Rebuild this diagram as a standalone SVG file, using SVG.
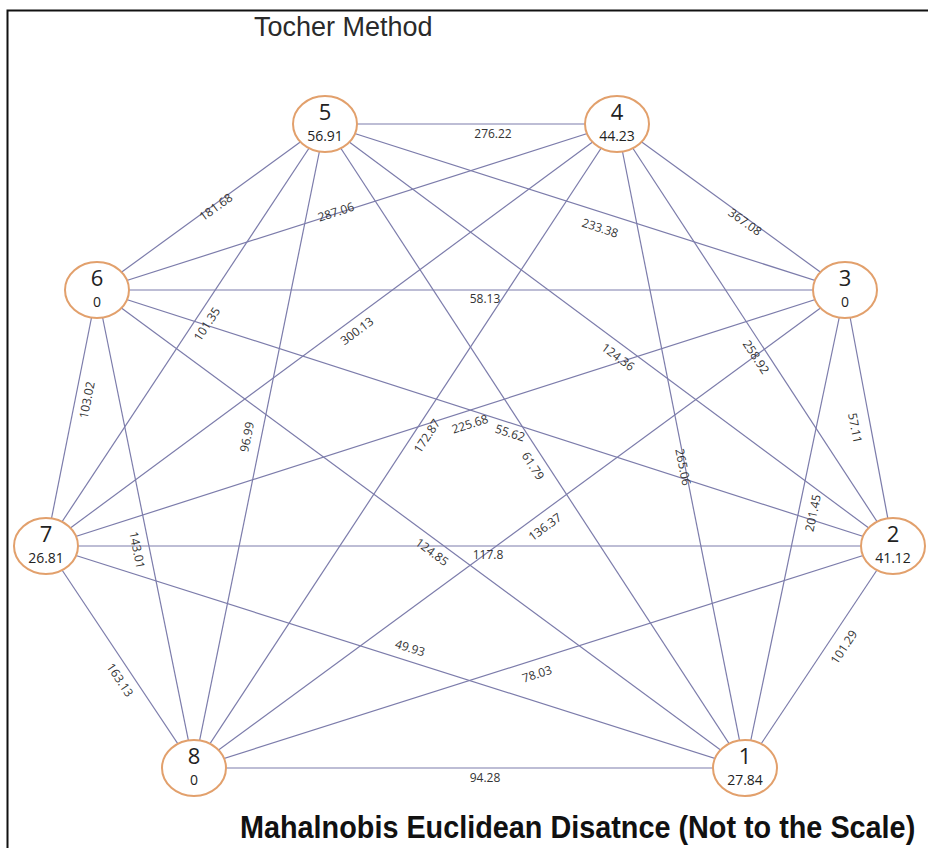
<svg xmlns="http://www.w3.org/2000/svg" width="928" height="848" viewBox="0 0 928 848">
<style>
.e{stroke:#7c7cab;stroke-width:1.2;fill:none}
.n ellipse{fill:#fff;stroke:#e2a06c;stroke-width:2}
.num{font-family:"Open Sans","Noto Sans",sans-serif;font-size:22px;fill:#222;text-anchor:middle}
.val{font-family:"Open Sans","Noto Sans",sans-serif;font-size:14px;fill:#222;text-anchor:middle}
.lb{font-family:"Open Sans","Noto Sans",sans-serif;font-size:12px;fill:#333;text-anchor:middle}
</style>
<rect x="0" y="0" width="928" height="848" fill="#fff"/>
<path d="M7.5,848 V10.5 H928" stroke="#111" stroke-width="2" fill="none"/>
<text x="254" y="36" font-family="Liberation Sans, Arial, sans-serif" font-size="27" fill="#2a2a2a">Tocher Method</text>
<text transform="translate(240,838) scale(0.9,1)" font-family="Liberation Sans, Arial, sans-serif" font-size="32" font-weight="bold" fill="#111">Mahalnobis Euclidean Disatnce (Not to the Scale)</text>
<g id="connectors">
<line class="e" x1="325" y1="124" x2="617" y2="124"/>
<line class="e" x1="325" y1="124" x2="97" y2="290"/>
<line class="e" x1="617" y1="124" x2="97" y2="290"/>
<line class="e" x1="325" y1="124" x2="845" y2="290"/>
<line class="e" x1="617" y1="124" x2="845" y2="290"/>
<line class="e" x1="97" y1="290" x2="845" y2="290"/>
<line class="e" x1="325" y1="124" x2="46" y2="546"/>
<line class="e" x1="617" y1="124" x2="46" y2="546"/>
<line class="e" x1="325" y1="124" x2="893" y2="546"/>
<line class="e" x1="617" y1="124" x2="893" y2="546"/>
<line class="e" x1="845" y1="290" x2="893" y2="546"/>
<line class="e" x1="97" y1="290" x2="46" y2="546"/>
<line class="e" x1="325" y1="124" x2="194" y2="768"/>
<line class="e" x1="97" y1="290" x2="194" y2="768"/>
<line class="e" x1="617" y1="124" x2="194" y2="768"/>
<line class="e" x1="845" y1="290" x2="46" y2="546"/>
<line class="e" x1="97" y1="290" x2="893" y2="546"/>
<line class="e" x1="325" y1="124" x2="745" y2="768"/>
<line class="e" x1="845" y1="290" x2="194" y2="768"/>
<line class="e" x1="46" y1="546" x2="893" y2="546"/>
<line class="e" x1="97" y1="290" x2="745" y2="768"/>
<line class="e" x1="617" y1="124" x2="745" y2="768"/>
<line class="e" x1="845" y1="290" x2="745" y2="768"/>
<line class="e" x1="893" y1="546" x2="745" y2="768"/>
<line class="e" x1="46" y1="546" x2="194" y2="768"/>
<line class="e" x1="46" y1="546" x2="745" y2="768"/>
<line class="e" x1="893" y1="546" x2="194" y2="768"/>
<line class="e" x1="194" y1="768" x2="745" y2="768"/>
<g class="lb">
<text transform="translate(493,134)" dy="0.35em">276.22</text>
<text transform="translate(216,207) rotate(-36)" dy="0.35em">181.68</text>
<text transform="translate(336,212) rotate(-18)" dy="0.35em">287.06</text>
<text transform="translate(600,228) rotate(18)" dy="0.35em">233.38</text>
<text transform="translate(745,222) rotate(36)" dy="0.35em">367.08</text>
<text transform="translate(485,299)" dy="0.35em">58.13</text>
<text transform="translate(207,324) rotate(-56.5)" dy="0.35em">101.35</text>
<text transform="translate(357,331) rotate(-36.5)" dy="0.35em">300.13</text>
<text transform="translate(618,357) rotate(36.6)" dy="0.35em">124.36</text>
<text transform="translate(756,357) rotate(56.8)" dy="0.35em">258.92</text>
<text transform="translate(855,428) rotate(79.4)" dy="0.35em">57.11</text>
<text transform="translate(87,400) rotate(-78.7)" dy="0.35em">103.02</text>
<text transform="translate(247,437) rotate(-78.5)" dy="0.35em">96.99</text>
<text transform="translate(137,550) rotate(78.5)" dy="0.35em">143.01</text>
<text transform="translate(427,436) rotate(-56.7)" dy="0.35em">172.87</text>
<text transform="translate(470,424) rotate(-17.8)" dy="0.35em">225.68</text>
<text transform="translate(510,433) rotate(17.8)" dy="0.35em">55.62</text>
<text transform="translate(533,466) rotate(56.9)" dy="0.35em">61.79</text>
<text transform="translate(545,527) rotate(-36.3)" dy="0.35em">136.37</text>
<text transform="translate(488,555)" dy="0.35em">117.8</text>
<text transform="translate(432,552) rotate(36.4)" dy="0.35em">124.85</text>
<text transform="translate(683,467) rotate(78.8)" dy="0.35em">265.06</text>
<text transform="translate(813,513) rotate(-78.2)" dy="0.35em">201.45</text>
<text transform="translate(844,647) rotate(-56.3)" dy="0.35em">101.29</text>
<text transform="translate(120,680) rotate(56.3)" dy="0.35em">163.13</text>
<text transform="translate(410,648) rotate(17.6)" dy="0.35em">49.93</text>
<text transform="translate(537,674) rotate(-17.6)" dy="0.35em">78.03</text>
<text transform="translate(485,778)" dy="0.35em">94.28</text>
</g>
</g>
<g id="node5" class="n"><ellipse cx="325" cy="124" rx="32" ry="28"/><text class="num" x="325" y="120">5</text><text class="val" x="325" y="141">56.91</text></g>
<g id="node4" class="n"><ellipse cx="617" cy="124" rx="32" ry="28"/><text class="num" x="617" y="120">4</text><text class="val" x="617" y="141">44.23</text></g>
<g id="node6" class="n"><ellipse cx="97" cy="290" rx="32" ry="28"/><text class="num" x="97" y="286">6</text><text class="val" x="97" y="307">0</text></g>
<g id="node3" class="n"><ellipse cx="845" cy="290" rx="32" ry="28"/><text class="num" x="845" y="286">3</text><text class="val" x="845" y="307">0</text></g>
<g id="node7" class="n"><ellipse cx="46" cy="546" rx="32" ry="28"/><text class="num" x="46" y="542">7</text><text class="val" x="46" y="563">26.81</text></g>
<g id="node2" class="n"><ellipse cx="893" cy="546" rx="32" ry="28"/><text class="num" x="893" y="542">2</text><text class="val" x="893" y="563">41.12</text></g>
<g id="node8" class="n"><ellipse cx="194" cy="768" rx="32" ry="28"/><text class="num" x="194" y="764">8</text><text class="val" x="194" y="785">0</text></g>
<g id="node1" class="n"><ellipse cx="745" cy="768" rx="32" ry="28"/><text class="num" x="745" y="764">1</text><text class="val" x="745" y="785">27.84</text></g>
</svg>
